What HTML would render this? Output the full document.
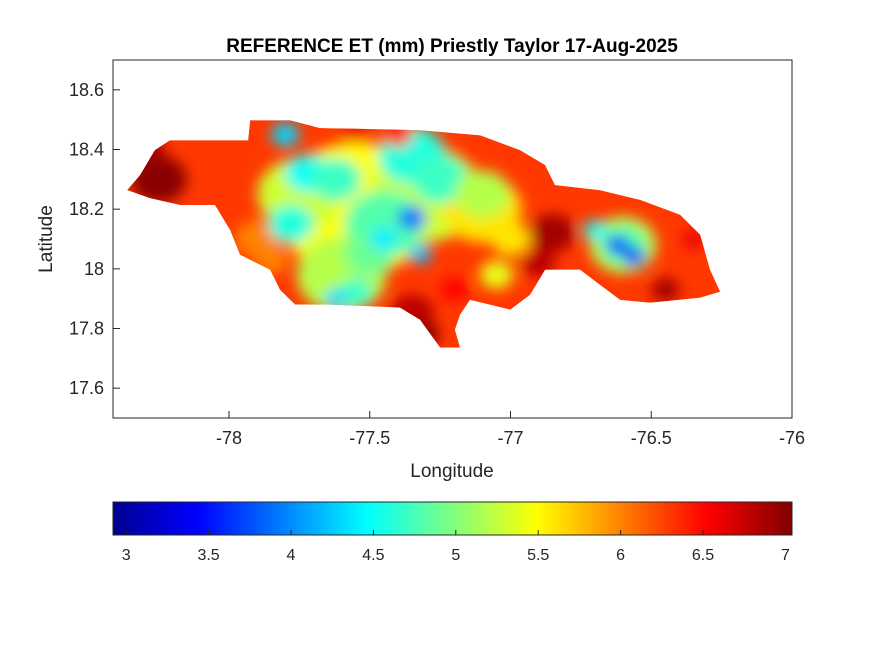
<!DOCTYPE html>
<html><head><meta charset="utf-8"><style>
body{margin:0;background:#fff;}
svg text{font-family:"Liberation Sans",sans-serif;}
</style></head><body>
<svg id="fig" width="875" height="656" xmlns="http://www.w3.org/2000/svg">
<defs>
<filter id="blur" x="-20%" y="-20%" width="140%" height="140%"><feGaussianBlur stdDeviation="7"/></filter>
<clipPath id="island"><path id="islandPath"/></clipPath>
<linearGradient id="jet" x1="0" x2="1" y1="0" y2="0">
<stop offset="0" stop-color="#00008f"/><stop offset="0.125" stop-color="#0000ff"/><stop offset="0.375" stop-color="#00ffff"/><stop offset="0.625" stop-color="#ffff00"/><stop offset="0.875" stop-color="#ff0000"/><stop offset="1" stop-color="#800000"/>
</linearGradient>
</defs>
<rect x="113" y="60" width="679" height="358" fill="#fff" stroke="#262626" stroke-width="1"/>
<g id="mapG" clip-path="url(#island)"></g>
<g id="axesG"></g>
<text x="452" y="52" text-anchor="middle" font-size="19" font-weight="bold" fill="#000">REFERENCE ET (mm) Priestly Taylor 17-Aug-2025</text>
<text x="452" y="477" text-anchor="middle" font-size="19" fill="#262626">Longitude</text>
<text x="52" y="239" text-anchor="middle" font-size="19" fill="#262626" transform="rotate(-90 52 239)">Latitude</text>
<rect x="113" y="502" width="679" height="33" fill="url(#jet)" stroke="#262626" stroke-width="1"/>
<g id="cbG"></g>
</svg>
<script>
const xTicks=[-78,-77.5,-77,-76.5,-76];
const xTickLabels=["-78","-77.5","-77","-76.5","-76"];
const yTicks=[17.6,17.8,18,18.2,18.4,18.6];
const yTickLabels=["17.6","17.8","18","18.2","18.4","18.6"];
const cbTicks=[3,3.5,4,4.5,5,5.5,6,6.5,7];
const cbTickLabels=["3","3.5","4","4.5","5","5.5","6","6.5","7"];
const outlineLon=[-78.362,-78.316,-78.263,-78.21,-77.932,-77.925,-77.783,-77.677,-77.321,-77.108,-76.966,-76.877,-76.842,-76.682,-76.539,-76.397,-76.326,-76.291,-76.255,-76.326,-76.504,-76.611,-76.682,-76.753,-76.877,-76.93,-77.001,-77.144,-77.179,-77.197,-77.179,-77.25,-77.321,-77.392,-77.641,-77.765,-77.819,-77.854,-77.961,-77.996,-78.05,-78.174,-78.281];
const outlineLat=[18.264,18.314,18.398,18.431,18.431,18.498,18.498,18.472,18.465,18.448,18.398,18.348,18.281,18.264,18.231,18.181,18.114,17.997,17.923,17.903,17.886,17.896,17.946,17.997,17.997,17.913,17.863,17.896,17.846,17.796,17.736,17.736,17.829,17.87,17.88,17.88,17.93,17.997,18.047,18.13,18.214,18.214,18.237];
// drawn in order: broad background fields first, then detail
const blobLon=[-78.25,-78.3,-77.55,-77.3,-77.75,-77.1,-77.6,-76.6,-77.9,-77.45,-77.35,-77.72,-77.78,-77.62,-77.25,-77.5,-77.55,-77.1,-77.0,-76.6,-77.05,-77.85,-77.35,-77.3,-77.2,-76.85,-76.9,-76.45,-76.35,-77.55,-77.4,-77.8,-77.35,-77.32,-77.45,-77.62,-76.62,-76.56,-76.7];
const blobLat=[18.3,18.4,18.2,18.25,18.25,18.2,17.98,18.08,18.1,18.15,18.38,18.32,18.15,18.3,18.3,18.05,17.92,18.25,18.1,18.08,17.98,18.03,17.85,17.78,17.93,18.12,18.02,17.93,18.1,18.46,18.45,18.45,18.17,18.05,18.1,17.9,18.08,18.04,18.13];
const blobVal=[7,6.9,5.5,5.3,5.3,5.6,5.2,5.2,6.0,4.8,4.6,4.5,4.6,4.7,4.7,4.9,4.7,5.2,5.6,4.8,5.4,6.0,6.8,7,6.5,6.9,6.8,6.9,6.6,6.6,6.4,4.3,3.9,4.2,4.4,4.3,3.7,3.7,4.5];
const blobR=[0.1,0.07,0.28,0.2,0.15,0.14,0.16,0.12,0.08,0.14,0.12,0.08,0.08,0.09,0.1,0.09,0.06,0.1,0.07,0.08,0.06,0.06,0.08,0.05,0.05,0.08,0.06,0.05,0.04,0.05,0.05,0.05,0.05,0.04,0.05,0.04,0.04,0.04,0.04];
const X0=113,X1=792,LON0=-78.412,LON1=-76,Y0=60,Y1=418,LAT0=17.5,LAT1=18.7;
const xs=v=>X0+(v-LON0)/(LON1-LON0)*(X1-X0);
const ys=v=>Y1-(v-LAT0)/(LAT1-LAT0)*(Y1-Y0);
const cbX=v=>113+(v-2.92)/(7.04-2.92)*679;
function jet(v){let t=(v-2.92)/(7.04-2.92);t=Math.max(0,Math.min(1,t));
 const f=(a)=>Math.max(0,Math.min(1,1.5-Math.abs(4*t-a)));
 return `rgb(${Math.round(255*f(3))},${Math.round(255*f(2))},${Math.round(255*f(1))})`;}
const NS="http://www.w3.org/2000/svg";
let d=outlineLon.map((lo,i)=>(i?"L":"M")+xs(lo).toFixed(1)+","+ys(outlineLat[i]).toFixed(1)).join("")+"Z";
document.getElementById("islandPath").setAttribute("d",d);
const mapG=document.getElementById("mapG");
const base=document.createElementNS(NS,"path");
base.setAttribute("d",d);base.setAttribute("fill",jet(6.3));


mapG.appendChild(base);
const bg=document.createElementNS(NS,"g");bg.setAttribute("filter","url(#blur)");


mapG.appendChild(bg);
blobLon.forEach((lo,i)=>{const e=document.createElementNS(NS,"ellipse");
 e.setAttribute("cx",xs(lo));e.setAttribute("cy",ys(blobLat[i]));
 e.setAttribute("rx",blobR[i]*281.4);e.setAttribute("ry",blobR[i]*299*0.8);
 e.setAttribute("fill",jet(blobVal[i]));
 
 
 bg.appendChild(e);});
const ax=document.getElementById("axesG");
function add(tag,attrs,parent,txt){const e=document.createElementNS(NS,tag);for(const k in attrs)e.setAttribute(k,attrs[k]);if(txt!==undefined)e.textContent=txt;parent.appendChild(e);return e;}
xTicks.forEach((v,i)=>{const x=xs(v);
 const l=add("line",{x1:x,x2:x,y1:418,y2:411,stroke:"#262626"},ax);
 
 
 const t=add("text",{x:x,y:444,"text-anchor":"middle","font-size":"18",fill:"#262626"},ax,xTickLabels[i]);
 
 });
yTicks.forEach((v,i)=>{const y=ys(v);
 const l=add("line",{x1:113,x2:120,y1:y,y2:y,stroke:"#262626"},ax);
 
 
 const t=add("text",{x:104,y:y+6,"text-anchor":"end","font-size":"18",fill:"#262626"},ax,yTickLabels[i]);
 
 });
const cb=document.getElementById("cbG");
cbTicks.forEach((v,i)=>{const x=cbX(v);
 const l=add("line",{x1:x,x2:x,y1:535,y2:530,stroke:"#262626"},cb);
 
 
 const t=add("text",{x:x,y:560,"text-anchor":"middle","font-size":"16",fill:"#262626"},cb,cbTickLabels[i]);
 
 });
</script>
</body></html>
